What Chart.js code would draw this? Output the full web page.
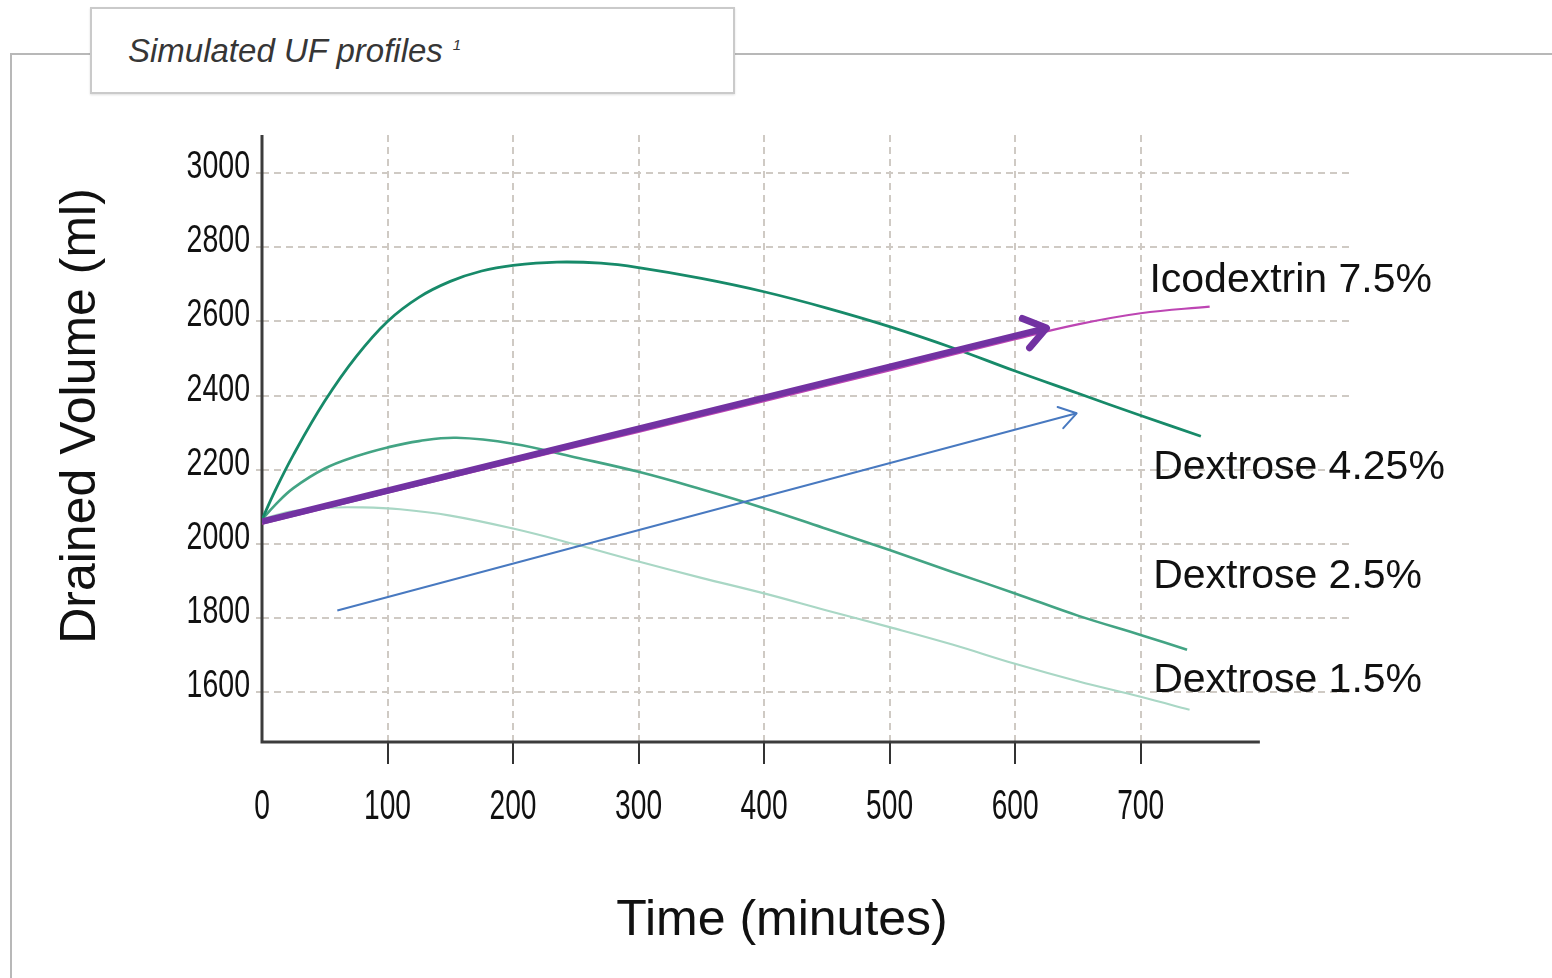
<!DOCTYPE html>
<html>
<head>
<meta charset="utf-8">
<title>Simulated UF profiles</title>
<script src="https://cdn.jsdelivr.net/npm/chart.js@4.4.1/dist/chart.umd.min.js"></script>
<style>
  html, body { margin: 0; padding: 0; background: #fff; }
  body { width: 1552px; height: 978px; position: relative; overflow: hidden; font-family: "Liberation Sans", Arial, sans-serif; }
  .frame { position: absolute; left: 10px; top: 53px; width: 1600px; height: 1000px; border-top: 2px solid #b8b8b8; border-left: 2px solid #b8b8b8; }
  .caption { position: absolute; left: 90px; top: 7px; width: 645px; height: 87px; box-sizing: border-box; border: 2px solid #cacaca; background: #fff; box-shadow: 0 1px 2px rgba(0,0,0,.12); }
  .caption > span { position: absolute; left: 36px; top: 25px; font-size: 33px; line-height: 33px; font-style: italic; color: #363636; white-space: nowrap; }
  .caption .sup { position: relative; top: -12px; font-size: 15px; margin-left: 10px; }
  #chart { position: absolute; left: 0; top: 0; }
</style>
</head>
<body>
<div class="frame"></div>
<div class="caption"><span>Simulated UF profiles<span class="sup">1</span></span></div>
<canvas id="chart" width="1552" height="978"></canvas>
<script>
// time in minutes, drained volume in ml
const d425Time = [0, 10, 25, 50, 75, 100, 125, 150, 175, 200, 235, 270, 300, 350, 400, 450, 500, 550, 600, 650, 700, 748];
const d425Vol = [2065, 2140, 2240, 2385, 2505, 2600, 2665, 2708, 2736, 2751, 2760, 2757, 2745, 2716, 2680, 2636, 2586, 2529, 2466, 2406, 2346, 2290];

const d25Time = [0, 10, 25, 50, 75, 100, 125, 155, 200, 250, 300, 350, 400, 450, 500, 550, 600, 650, 700, 737];
const d25Vol = [2065, 2103, 2150, 2203, 2236, 2260, 2277, 2286, 2270, 2233, 2194, 2147, 2096, 2040, 1983, 1924, 1866, 1806, 1754, 1714];

const d15Time = [0, 10, 25, 50, 80, 110, 150, 200, 250, 300, 350, 400, 450, 500, 550, 600, 650, 700, 739];
const d15Vol = [2065, 2076, 2088, 2097, 2098, 2093, 2076, 2041, 1998, 1952, 1908, 1866, 1820, 1775, 1728, 1676, 1629, 1587, 1552];

const icoTime = [0, 100, 200, 300, 400, 500, 600, 650, 700, 755];
const icoVol = [2054, 2138, 2220, 2302, 2385, 2468, 2552, 2592, 2622, 2640];

// arrows
const icoArrowTime = [0, 625];
const icoArrowVol = [2060, 2582];
const trendArrowTime = [60, 649];
const trendArrowVol = [1820, 2352];

const xTicks = [0, 100, 200, 300, 400, 500, 600, 700];
const yTicks = [1600, 1800, 2000, 2200, 2400, 2600, 2800, 3000];

const seriesNames = ["Icodextrin 7.5%", "Dextrose 4.25%", "Dextrose 2.5%", "Dextrose 1.5%"];

// where the series names sit (minutes, ml at baseline)
const nameSpots = [[707, 2680], [710, 2176], [710, 1881], [710, 1600]];

const pts = (t, v) => t.map((x, i) => ({ x: x, y: v[i] }));

const gridColor = "#cfcac4";
const plain = "'Liberation Sans', Arial, sans-serif";

// squeezed text, the tick numbers are set in a condensed face
function narrowText(ctx, text, x, y, squeeze) {
  ctx.save();
  ctx.translate(x, y);
  ctx.scale(squeeze, 1);
  ctx.fillText(text, 0, 0);
  ctx.restore();
}

const annotate = {
  id: "annotate",
  beforeDatasetsDraw(chart) {
    const { ctx, chartArea, scales: { x } } = chart;
    ctx.save();
    ctx.strokeStyle = "#3c3c3c";
    ctx.lineWidth = 3;
    ctx.beginPath();
    ctx.moveTo(chartArea.left, chartArea.top);
    ctx.lineTo(chartArea.left, chartArea.bottom);
    ctx.lineTo(x.getPixelForValue(795), chartArea.bottom);
    ctx.stroke();
    ctx.restore();
  },
  afterDatasetsDraw(chart) {
    const ctx = chart.ctx;
    chart.data.datasets.forEach((ds, i) => {
      if (!ds.arrow) return;
      const p = chart.getDatasetMeta(i).data;
      const a = p[p.length - 2], b = p[p.length - 1];
      const ang = Math.atan2(b.y - a.y, b.x - a.x);
      const len = ds.arrow.len, spread = ds.arrow.spread;
      ctx.save();
      ctx.strokeStyle = ds.borderColor;
      ctx.lineWidth = ds.arrow.width;
      ctx.lineCap = "round";
      ctx.lineJoin = "round";
      ctx.beginPath();
      ctx.moveTo(b.x - len * Math.cos(ang - spread), b.y - len * Math.sin(ang - spread));
      ctx.lineTo(b.x, b.y);
      ctx.lineTo(b.x - len * Math.cos(ang + spread), b.y - len * Math.sin(ang + spread));
      ctx.stroke();
      ctx.restore();
    });
  },
  afterDraw(chart) {
    const { ctx, chartArea, scales: { x, y } } = chart;
    ctx.save();
    ctx.fillStyle = "#111";
    ctx.textBaseline = "alphabetic";

    // tick numbers
    ctx.font = "42px " + plain;
    ctx.textAlign = "center";
    x.ticks.forEach((t) => narrowText(ctx, String(t.value), x.getPixelForValue(t.value), chartArea.bottom + 77, 0.67));
    ctx.font = "38px " + plain;
    ctx.textAlign = "right";
    y.ticks.forEach((t) => narrowText(ctx, String(t.value), chartArea.left - 12, y.getPixelForValue(t.value) + 5, 0.75));

    ctx.font = "41px " + plain;
    ctx.textAlign = "left";
    seriesNames.forEach((name, i) => {
      ctx.fillText(name, x.getPixelForValue(nameSpots[i][0]), y.getPixelForValue(nameSpots[i][1]));
    });

    ctx.font = "50px " + plain;
    ctx.textAlign = "center";
    ctx.fillText("Time (minutes)", 782, 935);
    ctx.translate(95, 416);
    ctx.rotate(-Math.PI / 2);
    ctx.fillText("Drained Volume (ml)", 0, 0);
    ctx.restore();
  }
};

new Chart("chart", {
  type: "line",
  data: {
    datasets: [
      {
        data: pts(icoArrowTime, icoArrowVol),
        borderColor: "#7232a2",
        borderWidth: 6.5,
        tension: 0,
        arrow: { len: 26, spread: 0.62, width: 7 },
      },
      {
        data: pts(trendArrowTime, trendArrowVol),
        borderColor: "#4879c0",
        borderWidth: 2,
        tension: 0,
        arrow: { len: 20, spread: 0.58, width: 2 },
      },
      {
        label: seriesNames[0],
        data: pts(icoTime, icoVol),
        borderColor: "#bd45b3",
        borderWidth: 2.2,
        tension: 0.4,
      },
      {
        label: seriesNames[1],
        data: pts(d425Time, d425Vol),
        borderColor: "#178a69",
        borderWidth: 2.8,
        tension: 0.4,
      },
      {
        label: seriesNames[2],
        data: pts(d25Time, d25Vol),
        borderColor: "#43a484",
        borderWidth: 2.6,
        tension: 0.4,
      },
      {
        label: seriesNames[3],
        data: pts(d15Time, d15Vol),
        borderColor: "#a9d7c5",
        borderWidth: 2.2,
        tension: 0.4,
      },
    ],
  },
  options: {
    responsive: false,
    animation: false,
    elements: { point: { radius: 0 } },
    layout: { padding: { top: 135, right: 198, left: 0, bottom: 0 } },
    plugins: { legend: { display: false }, tooltip: { enabled: false } },
    scales: {
      x: {
        type: "linear",
        min: 0,
        max: 870,
        afterBuildTicks: (s) => { s.ticks = xTicks.map((v) => ({ value: v })); },
        afterFit: (s) => { s.height = 236; },
        border: { display: false, dash: [7, 5] },
        grid: {
          color: (c) => (c.tick && c.tick.value > 0 ? gridColor : "transparent"),
          lineWidth: 2,
          tickLength: 22,
          tickWidth: 2,
          tickColor: (c) => (c.tick && c.tick.value > 0 ? "#333" : "transparent"),
          tickBorderDash: [],
        },
        ticks: { display: false, autoSkip: false },
      },
      y: {
        min: 1465,
        max: 3103,
        afterBuildTicks: (s) => { s.ticks = yTicks.map((v) => ({ value: v })); },
        afterFit: (s) => { s.width = 262; },
        border: { display: false, dash: [7, 5] },
        grid: {
          color: gridColor,
          lineWidth: 2,
          tickLength: 6,
          tickColor: gridColor,
          tickBorderDash: [],
        },
        ticks: { display: false, autoSkip: false },
      },
    },
  },
  plugins: [annotate],
});
</script>
</body>
</html>
